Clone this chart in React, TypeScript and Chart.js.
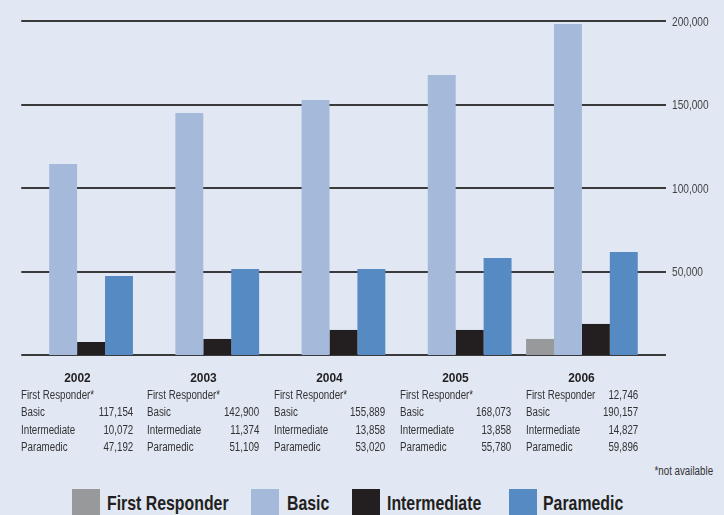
import React, { useEffect, useRef, useState } from "react";
import { Chart, registerables } from "chart.js";

Chart.register(...registerables);

// ---- data (bar heights as drawn) ----
const years = ["2002", "2003", "2004", "2005", "2006"];
const firstResponder = [null, null, null, null, 9600];
const basic = [114400, 144900, 152700, 167700, 198200];
const intermediate = [7800, 9600, 15000, 15000, 18600];
const paramedic = [47300, 51500, 51500, 58100, 61700];

// ---- table text under each year ----
const tableFirstResponder = ["", "", "", "", "12,746"];
const tableBasic = ["117,154", "142,900", "155,889", "168,073", "190,157"];
const tableIntermediate = ["10,072", "11,374", "13,858", "13,858", "14,827"];
const tableParamedic = ["47,192", "51,109", "53,020", "55,780", "59,896"];

const yTicks = [0, 50000, 100000, 150000, 200000];
const yTickLabels = ["", "50,000", "100,000", "150,000", "200,000"];

const seriesNames = ["First Responder", "Basic", "Intermediate", "Paramedic"];
const seriesColors = ["#98999b", "#a5b9da", "#231f20", "#568ac2"];

const BG = "#e1e7f3";
const FONT = "'Liberation Sans', Arial, sans-serif";
const CAT_PCT = 0.885;

const gridPlugin = {
  id: "customGrid",
  beforeDatasetsDraw(chart: any) {
    const { ctx, scales } = chart;
    const x = scales.x;
    const y = scales.y;
    const catW = x.width / years.length;
    const x0 = x.getPixelForValue(0) - (catW * CAT_PCT) / 2;
    const x1 = y.left + 21;
    ctx.save();
    ctx.strokeStyle = "#3a3a3c";
    ctx.lineWidth = 2;
    yTicks.forEach((v) => {
      const py = Math.round(y.getPixelForValue(v));
      ctx.beginPath();
      ctx.moveTo(x0, py);
      ctx.lineTo(x1, py);
      ctx.stroke();
    });
    ctx.restore();
  },
};

type Layout = {
  cols: { left: number; width: number; center: number }[];
  yPix: number[];
  yLabelLeft: number;
};

function Narrow(props: {
  children: React.ReactNode;
  scale: number;
  origin: "left" | "right" | "center";
  style: React.CSSProperties;
}) {
  return (
    <div
      style={{
        position: "absolute",
        whiteSpace: "nowrap",
        transform: `scaleX(${props.scale})`,
        transformOrigin: `${props.origin} center`,
        ...props.style,
      }}
    >
      {props.children}
    </div>
  );
}

export default function App() {
  const canvasRef = useRef<HTMLCanvasElement | null>(null);
  const [layout, setLayout] = useState<Layout | null>(null);

  useEffect(() => {
    document.body.style.margin = "0";
    const canvas = canvasRef.current;
    if (!canvas) return;
    const data = [firstResponder, basic, intermediate, paramedic];
    const chart = new Chart(canvas, {
      type: "bar",
      data: {
        labels: years,
        datasets: seriesNames.map((name, i) => ({
          label: name,
          data: data[i] as any,
          backgroundColor: seriesColors[i],
          borderWidth: 0,
          categoryPercentage: CAT_PCT,
          barPercentage: 1,
        })),
      },
      options: {
        animation: false,
        responsive: false,
        maintainAspectRatio: false,
        layout: { padding: { left: 14, top: 21, right: 0, bottom: 0 } },
        plugins: { legend: { display: false }, tooltip: { enabled: false } },
        scales: {
          x: {
            grid: { display: false },
            border: { display: false },
            ticks: { display: false },
            afterFit: (s: any) => {
              s.height = 45;
            },
          },
          y: {
            position: "right",
            min: 0,
            max: 200000,
            grid: { display: false },
            border: { display: false },
            ticks: { display: false, stepSize: 50000 },
            afterFit: (s: any) => {
              s.width = 79;
            },
          },
        },
      },
      plugins: [gridPlugin],
    });
    const x = chart.scales.x;
    const y = chart.scales.y;
    const catW = x.width / years.length;
    setLayout({
      cols: years.map((_, i) => ({
        left: x.getPixelForValue(i) - (catW * CAT_PCT) / 2,
        width: catW * CAT_PCT,
        center: x.getPixelForValue(i),
      })),
      yPix: yTicks.map((v) => y.getPixelForValue(v)),
      yLabelLeft: y.left + 27,
    });
    return () => chart.destroy();
  }, []);

  const rows = (i: number) => [
    [tableFirstResponder[i] ? "First Responder" : "First Responder*", tableFirstResponder[i]],
    ["Basic", tableBasic[i]],
    ["Intermediate", tableIntermediate[i]],
    ["Paramedic", tableParamedic[i]],
  ];

  const legendSquareLeft = [72, 251, 352, 509];
  const legendTextLeft = [107, 287, 387, 543];
  const tableFont = 12.5;
  const tableScale = 0.78;

  return (
    <div
      style={{
        position: "fixed",
        left: 0,
        top: 0,
        width: 724,
        height: 515,
        background: BG,
        overflow: "hidden",
        fontFamily: FONT,
      }}
    >
      <canvas
        ref={canvasRef}
        width={724}
        height={400}
        style={{ position: "absolute", left: 0, top: 0, width: 724, height: 400 }}
      />
      {layout &&
        layout.yPix.map((py, k) =>
          yTickLabels[k] ? (
            <Narrow
              key={"y" + k}
              scale={0.78}
              origin="left"
              style={{
                left: layout.yLabelLeft,
                top: py - 6.5,
                fontSize: 13,
                lineHeight: "13px",
                color: "#444",
              }}
            >
              {yTickLabels[k]}
            </Narrow>
          ) : null
        )}
      {layout &&
        layout.cols.map((c, i) => (
          <React.Fragment key={years[i]}>
            <div
              style={{
                position: "absolute",
                left: c.center - 40,
                width: 80,
                top: 368.3,
                textAlign: "center",
              }}
            >
              <span
                style={{
                  display: "inline-block",
                  fontSize: 13,
                  lineHeight: "13px",
                  fontWeight: "bold",
                  color: "#231f20",
                  transform: "scaleX(0.92)",
                }}
              >
                {years[i]}
              </span>
            </div>
            {rows(i).map((r, k) => (
              <React.Fragment key={k}>
                <Narrow
                  scale={tableScale}
                  origin="left"
                  style={{
                    left: c.left,
                    top: 387.1 + k * 17.2,
                    fontSize: tableFont,
                    lineHeight: "17.2px",
                    color: "#333",
                  }}
                >
                  {r[0]}
                </Narrow>
                {r[1] ? (
                  <Narrow
                    scale={tableScale}
                    origin="right"
                    style={{
                      right: 724 - (c.left + c.width),
                      top: 387.1 + k * 17.2,
                      fontSize: tableFont,
                      lineHeight: "17.2px",
                      color: "#333",
                    }}
                  >
                    {r[1]}
                  </Narrow>
                ) : null}
              </React.Fragment>
            ))}
          </React.Fragment>
        ))}
      <Narrow
        scale={tableScale}
        origin="right"
        style={{ right: 11.3, top: 462.5, fontSize: tableFont, lineHeight: "17px", color: "#333" }}
      >
        *not available
      </Narrow>
      {seriesNames.map((name, i) => (
        <React.Fragment key={name}>
          <div
            style={{
              position: "absolute",
              left: legendSquareLeft[i],
              top: 489,
              width: 28,
              height: 30,
              background: seriesColors[i],
            }}
          />
          <Narrow
            scale={0.755}
            origin="left"
            style={{
              left: legendTextLeft[i],
              top: 489.7,
              fontSize: 21,
              lineHeight: "26px",
              fontWeight: "bold",
              color: "#231f20",
            }}
          >
            {name}
          </Narrow>
        </React.Fragment>
      ))}
    </div>
  );
}
